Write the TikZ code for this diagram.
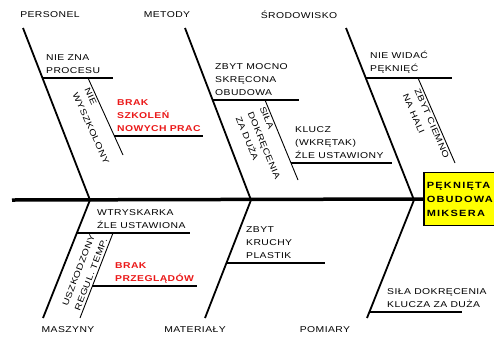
\documentclass[tikz,border=0pt]{standalone}
\usepackage{fontspec}
\setmainfont{Liberation Sans}
\newfontfamily\lblfont[FakeStretch=1.22,LetterSpace=5]{Liberation Sans}
\newfontfamily\boxfont[FakeStretch=1.22,LetterSpace=14]{Liberation Sans}
\definecolor{redtxt}{RGB}{235,25,25}
\definecolor{effyellow}{RGB}{255,255,0}
\newcommand\nodepth[1]{{\setbox0\hbox{#1}\dp0=0pt \box0}}
\begin{document}
\begin{tikzpicture}[x=1pt,y=-1pt,
  every node/.style={font=\lblfont\fontsize{8.5}{13}\selectfont, inner sep=0pt, align=left},
  spine/.style={line width=3.5pt},
  bone/.style={line width=1.8pt},
  sub/.style={line width=1.2pt},
  subsub/.style={line width=0.9pt},
  cat/.style={anchor=center},
  cause/.style={anchor=south west, yshift=4.5pt},
  slanted/.style={inner sep=2pt},
  redcause/.style={cause, text=redtxt, font=\lblfont\bfseries\fontsize{8.5}{13}\selectfont},
  effect/.style={draw, line width=1.5pt, fill=effyellow, anchor=west, text width=76pt,
    minimum height=53pt, inner xsep=3pt, font=\boxfont\bfseries\fontsize{9}{14}\selectfont}
]
\fill[white] (0,0) rectangle (494,338);
\useasboundingbox (0,0) rectangle (494,338);
\begin{scope}
\clip (0,0) rectangle (494,338);
% effect box
\node[effect] (eff) at (423,199) {PĘKNIĘTA\\OBUDOWA\\MIKSERA};
\end{scope}
% spine
\coordinate (tail) at (12,200);
\coordinate (j1) at (90,200);
\coordinate (j2) at (251,200);
\coordinate (j3) at (414,200);
\draw[spine] (tail) -- (eff.west);
% bone ends
\coordinate (pT) at (23,28);
\coordinate (mT) at (185,28);
\coordinate (sT) at (346,28);
\coordinate (maB) at (43,318);
\coordinate (mtB) at (205,318);
\coordinate (poB) at (367,318);
\draw[bone] (pT) -- (j1);
\draw[bone] (mT) -- (j2);
\draw[bone] (sT) -- (j3);
\draw[bone] (j1) -- (maB);
\draw[bone] (j2) -- (mtB);
\draw[bone] (j3) -- (poB);
% category labels
\node[cat] (lP) at (50,15) {PERSONEL};
\node[cat] (lM) at (167,15) {METODY};
\node[cat] (lS) at (299,15) {ŚRODOWISKO};
\node[cat] (lMa) at (68,330) {MASZYNY};
\node[cat] (lMt) at (195,330) {MATERIAŁY};
\node[cat] (lPo) at (325,330) {POMIARY};
% ---- PERSONEL
\coordinate (p1a) at (42.5,78); \coordinate (p1b) at (113,78);
\draw[sub] (p1a) -- (p1b);
\node[cause] (tp1) at (46,78) {NIE ZNA\\PROCESU};
\coordinate (p2a) at (88,78); \coordinate (p2b) at (123,155);
\draw[subsub] (p2a) -- (p2b);
\node[slanted, rotate=-65.6, anchor=north west] (tp2) at (90.7,84) {NIE\\WYSZKOLONY};
\coordinate (p3a) at (114.4,136); \coordinate (p3b) at (203,136);
\draw[sub] (p3a) -- (p3b);
\node[redcause] (tp3) at (117,136) {BRAK\\SZKOLEŃ\\NOWYCH PRAC};
% ---- METODY
\coordinate (m1a) at (212.6,100); \coordinate (m1b) at (299,100);
\draw[sub] (m1a) -- (m1b);
\node[cause] (tm1) at (215,100) {ZBYT MOCNO\\SKRĘCONA\\OBUDOWA};
\coordinate (m2a) at (265,100); \coordinate (m2b) at (298,180);
\draw[subsub] (m2a) -- (m2b);
\node[slanted, rotate=-67.6, anchor=north west] (tm2) at (266.3,103) {SIŁA\\DOKRĘCENIA\\ZA DUŻA};
\coordinate (m3a) at (291,163); \coordinate (m3b) at (392,163);
\draw[sub] (m3a) -- (m3b);
\node[cause] (tm3) at (295,163) {KLUCZ\\(WKRĘTAK)\\ŹLE USTAWIONY};
% ---- SRODOWISKO
\coordinate (s1a) at (365.8,78); \coordinate (s1b) at (452,78);
\draw[sub] (s1a) -- (s1b);
\node[cause] (ts1) at (370,78) {NIE WIDAĆ\\PĘKNIĘĆ};
\coordinate (s2a) at (418,78); \coordinate (s2b) at (455,163);
\draw[subsub] (s2a) -- (s2b);
\node[slanted, rotate=-66.5, anchor=north west] (ts2) at (421,85) {ZBYT CIEMNO\\NA HALI};
% ---- MASZYNY
\coordinate (ma1a) at (76.9,233); \coordinate (ma1b) at (190,233);
\draw[sub] (ma1a) -- (ma1b);
\node[cause] (tma1) at (97,233) {WTRYSKARKA\\ŹLE USTAWIONA};
\coordinate (ma2a) at (113,233); \coordinate (ma2b) at (80,318);
\draw[subsub] (ma2a) -- (ma2b);
\node[slanted, rotate=68.8, anchor=south west] (tma2) at (81.2,314) {USZKODZONY\\REGUL. TEMP.};
\coordinate (ma3a) at (92.4,286); \coordinate (ma3b) at (197,286);
\draw[sub] (ma3a) -- (ma3b);
\node[redcause] (tma3) at (115,286) {BRAK\\\nodepth{PRZEGLĄDÓW}};
% ---- MATERIALY
\coordinate (mt1a) at (226.4,263); \coordinate (mt1b) at (325,263);
\draw[sub] (mt1a) -- (mt1b);
\node[cause] (tmt1) at (246,263) {ZBYT\\KRUCHY\\PLASTIK};
% ---- POMIARY
\coordinate (po1a) at (369.4,312); \coordinate (po1b) at (462,312);
\draw[sub] (po1a) -- (po1b);
\node[cause] (tpo1) at (387,312) {SIŁA DOKRĘCENIA\\KLUCZA ZA DUŻA};
\end{tikzpicture}
\end{document}
